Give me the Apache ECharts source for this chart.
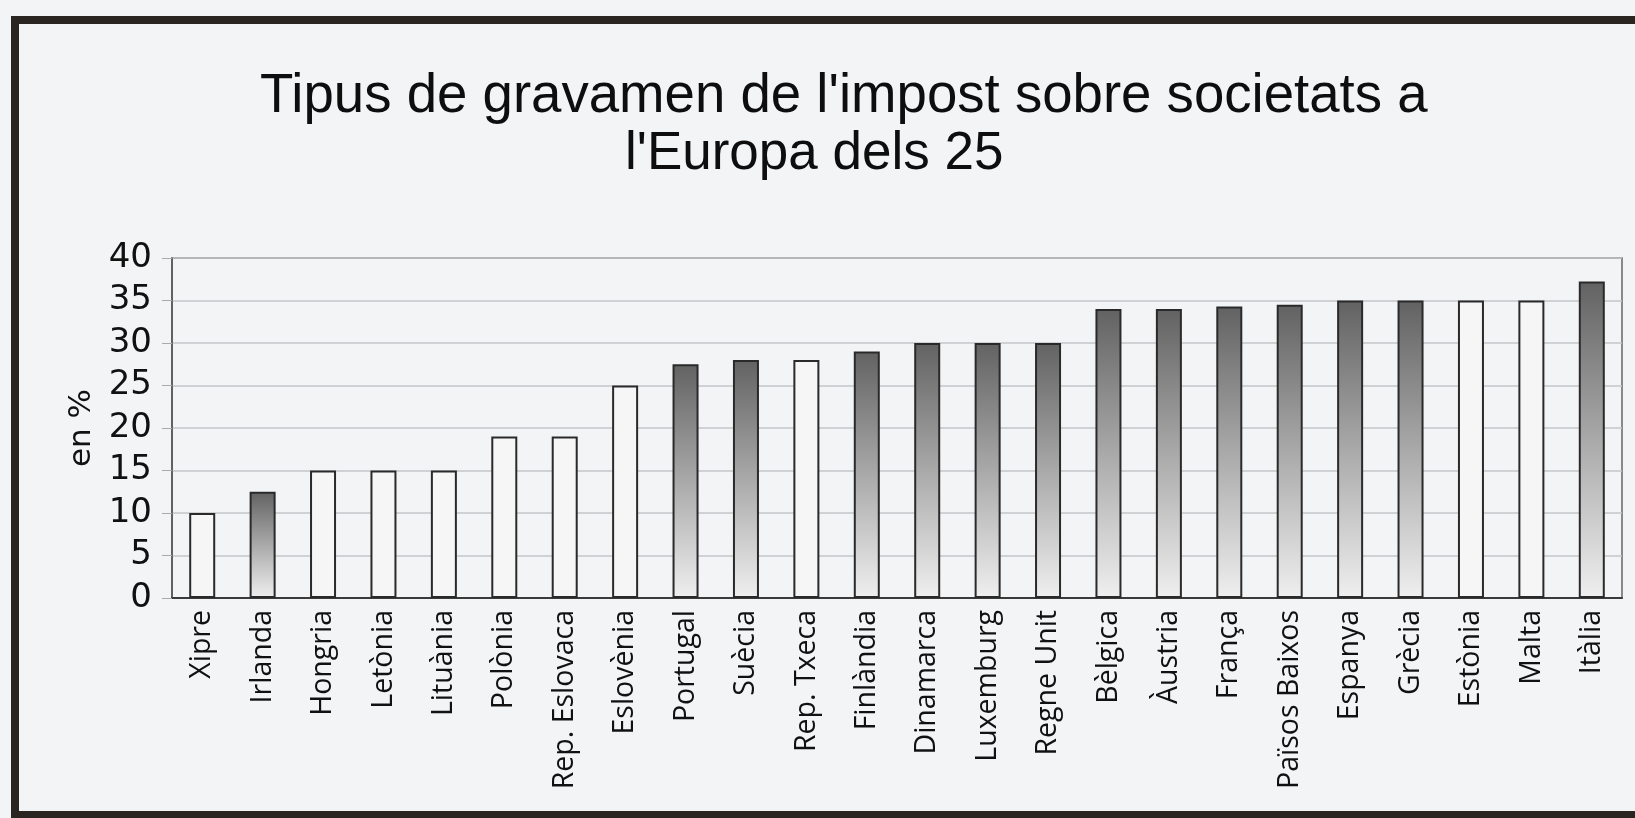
<!DOCTYPE html>
<html>
<head>
<meta charset="utf-8">
<title>Tipus de gravamen de l'impost sobre societats</title>
<script src="https://cdn.jsdelivr.net/npm/echarts@6/dist/echarts.min.js"></script>
<style>
  html, body { margin: 0; padding: 0; background: #f3f4f6; }
  #chart { width: 1635px; height: 818px; }
</style>
</head>
<body>
<div id="chart"></div>
<script>
// països (ordenats per tipus)
var paisos = ['Xipre', 'Irlanda', 'Hongria', 'Letònia', 'Lituània', 'Polònia', 'Rep. Eslovaca',
  'Eslovènia', 'Portugal', 'Suècia', 'Rep. Txeca', 'Finlàndia', 'Dinamarca', 'Luxemburg',
  'Regne Unit', 'Bèlgica', 'Àustria', 'França', 'Països Baixos', 'Espanya', 'Grècia',
  'Estònia', 'Malta', 'Itàlia']
// tipus de gravamen, en %
var tipus = [10, 12.5, 15, 15, 15, 19, 19, 25, 27.5, 28, 28, 29, 30, 30, 30, 34, 34, 34.3, 34.5,
  35, 35, 35, 35, 37.25]
// grup: UE-15 o nou estat membre
var grup = ['nou', 'UE-15', 'nou', 'nou', 'nou', 'nou', 'nou', 'nou', 'UE-15', 'UE-15', 'nou',
  'UE-15', 'UE-15', 'UE-15', 'UE-15', 'UE-15', 'UE-15', 'UE-15', 'UE-15', 'UE-15', 'UE-15',
  'nou', 'nou', 'UE-15']
var ticksY = [0, 5, 10, 15, 20, 25, 30, 35, 40]

var degradat = {
  type: 'linear', x: 0, y: 0, x2: 0, y2: 1,
  colorStops: [
    { offset: 0, color: '#626262' },
    { offset: 0.45, color: '#a2a2a2' },
    { offset: 1, color: '#efefef' }
  ]
}

var data = tipus.map(function (v, i) {
  return {
    value: v,
    itemStyle: { color: grup[i] === 'UE-15' ? degradat : '#f6f6f7' }
  }
})

var myChart = echarts.init(document.getElementById('chart'))
var option = {
  backgroundColor: '#f3f4f6',
  animation: false,
  title: [
    {
      text: "Tipus de gravamen de l'impost sobre societats a",
      left: 260, top: 69, padding: 0,
      textStyle: { fontFamily: 'Liberation Sans', fontSize: 54.6, fontWeight: 'normal', color: '#0e0e0e' }
    },
    {
      text: "l'Europa dels 25",
      left: 625, top: 128, padding: 0,
      textStyle: { fontFamily: 'Liberation Sans', fontSize: 53, fontWeight: 'normal', color: '#0e0e0e' }
    }
  ],
  graphic: [
    {
      type: 'rect',
      shape: { x: 15, y: 20, width: 1650, height: 795 },
      style: { fill: 'none', stroke: '#2a2521', lineWidth: 8 },
      silent: true
    }
  ],
  grid: {
    left: 172, right: 13, top: 258, bottom: 220,
    show: true, borderColor: '#666', borderWidth: 1.5, backgroundColor: 'transparent'
  },
  xAxis: {
    type: 'category',
    data: paisos,
    axisLine: { lineStyle: { color: '#3a3a3a', width: 2 } },
    axisTick: { show: false },
    axisLabel: {
      rotate: 90, interval: 0, margin: 12,
      fontFamily: 'Open Sans', fontSize: 28.5, color: '#111'
    }
  },
  yAxis: {
    type: 'value',
    min: ticksY[0], max: ticksY[ticksY.length - 1], interval: 5,
    name: 'en %',
    nameLocation: 'middle',
    nameRotate: 90,
    nameGap: 74,
    nameTextStyle: { fontFamily: 'DejaVu Sans', fontSize: 31, color: '#111' },
    axisLine: { show: true, lineStyle: { color: '#555', width: 1.5 } },
    axisTick: { show: true, length: 10, lineStyle: { color: '#aaa' } },
    axisLabel: { margin: 20, fontFamily: 'DejaVu Sans', fontSize: 34, color: '#111' },
    splitLine: { lineStyle: { color: '#c4c6c9', width: 1.5 } }
  },
  series: [
    {
      type: 'bar',
      data: data,
      barWidth: 26,
      itemStyle: { borderColor: '#2a2a2a', borderWidth: 2 }
    }
  ]
}
myChart.setOption(option)
</script>
</body>
</html>
